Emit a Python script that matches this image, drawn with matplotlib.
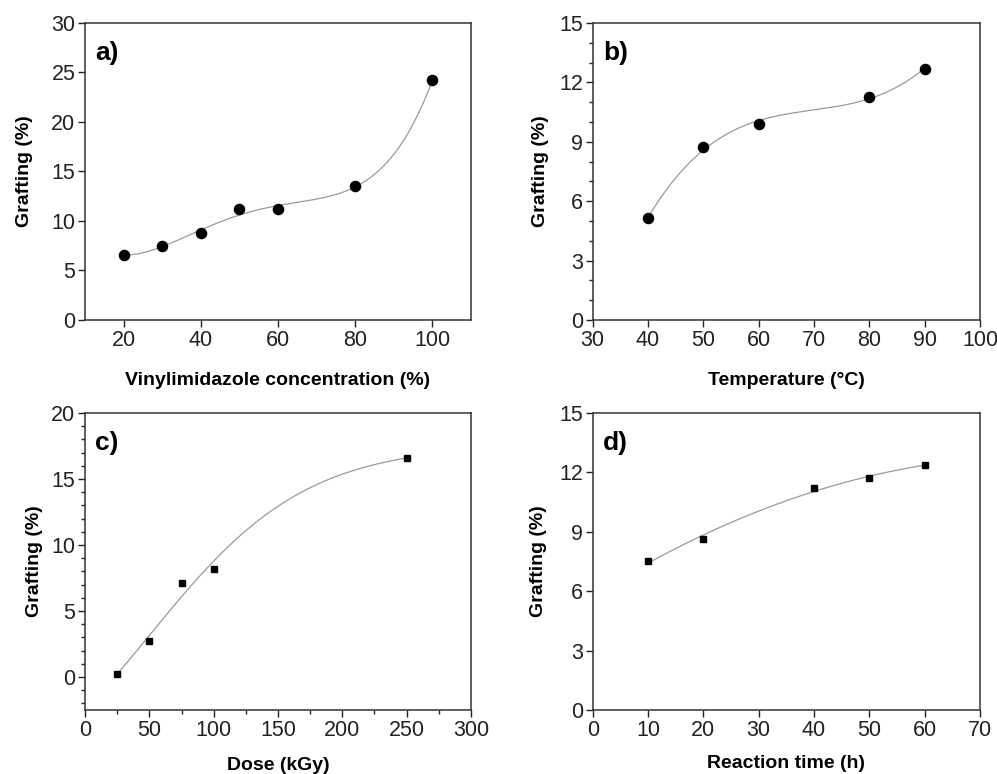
import numpy as np
import matplotlib
matplotlib.use("Agg")
import matplotlib.pyplot as plt
from matplotlib.ticker import MultipleLocator

plt.rcParams['font.family'] = ['Liberation Sans', 'DejaVu Sans']

# a) vinylimidazole concentration
conc = [20, 30, 40, 50, 60, 80, 100]
graft_conc = [6.56, 7.47, 8.75, 11.2, 11.17, 13.52, 24.2]
# b) temperature
temp = [40, 50, 60, 80, 90]
graft_temp = [5.13, 8.73, 9.92, 11.25, 12.7]
# c) dose
dose = [25, 50, 75, 100, 250]
graft_dose = [0.2, 2.7, 7.15, 8.16, 16.62]
# d) reaction time
rtime = [10, 20, 40, 50, 60]
graft_time = [7.52, 8.64, 11.23, 11.72, 12.36]


def boltzmann_fit(x, y):
    # grid search on x0, dx; linear solve for A1, A2
    x = np.asarray(x, float)
    y = np.asarray(y, float)
    best = None
    for x0 in np.linspace(50, 200, 301):
        for dx in np.linspace(10, 80, 141):
            s = 1.0 / (1 + np.exp((x - x0) / dx))
            A = np.column_stack([s, 1 - s])
            coef, *_ = np.linalg.lstsq(A, y, rcond=None)
            err = np.sum((A @ coef - y) ** 2)
            if best is None or err < best[0]:
                best = (err, x0, dx, coef)
    _, x0, dx, (a1, a2) = best
    return lambda t: a2 + (a1 - a2) / (1 + np.exp((t - x0) / dx))


fig = plt.figure(figsize=(9.97, 7.74), dpi=100)
ax_a = fig.add_axes([0.0853, 0.5866, 0.3871, 0.3837])
ax_b = fig.add_axes([0.5945, 0.5866, 0.3885, 0.3837])
ax_c = fig.add_axes([0.0853, 0.0827, 0.3871, 0.3837])
ax_d = fig.add_axes([0.5945, 0.0827, 0.3885, 0.3837])

line_kw = dict(color='#9a9a9a', lw=0.9, zorder=1)

# a
xs = np.linspace(20, 100, 300)
ax_a.plot(xs, np.polyval(np.polyfit(conc, graft_conc, 4), xs), **line_kw)
ax_a.plot(conc, graft_conc, 'o', color='black', ms=7.3, zorder=2)
ax_a.set_xlim(10, 110)
ax_a.set_ylim(0, 30)
ax_a.xaxis.set_major_locator(MultipleLocator(20))
ax_a.yaxis.set_major_locator(MultipleLocator(5))
ax_a.set_xlabel('Vinylimidazole concentration (%)')

# b
xs = np.linspace(40, 90, 300)
ax_b.plot(xs, np.polyval(np.polyfit(temp, graft_temp, 3), xs), **line_kw)
ax_b.plot(temp, graft_temp, 'o', color='black', ms=7.3, zorder=2)
ax_b.set_xlim(30, 100)
ax_b.set_ylim(0, 15)
ax_b.xaxis.set_major_locator(MultipleLocator(10))
ax_b.yaxis.set_major_locator(MultipleLocator(3))
ax_b.yaxis.set_minor_locator(MultipleLocator(1))
ax_b.set_xlabel('Temperature (°C)')

# c
xs = np.linspace(25, 250, 300)
ax_c.plot(xs, boltzmann_fit(dose, graft_dose)(xs), **line_kw)
ax_c.plot(dose, graft_dose, 's', color='black', ms=4.3, zorder=2)
ax_c.set_xlim(0, 300)
ax_c.set_ylim(-2.5, 20)
ax_c.xaxis.set_major_locator(MultipleLocator(50))
ax_c.xaxis.set_minor_locator(MultipleLocator(25))
ax_c.yaxis.set_major_locator(MultipleLocator(5))
ax_c.yaxis.set_minor_locator(MultipleLocator(1))
ax_c.set_xlabel('Dose (kGy)')

# d
xs = np.linspace(10, 60, 300)
ax_d.plot(xs, np.polyval(np.polyfit(rtime, graft_time, 2), xs), **line_kw)
ax_d.plot(rtime, graft_time, 's', color='black', ms=4.3, zorder=2)
ax_d.set_xlim(0, 70)
ax_d.set_ylim(0, 15)
ax_d.xaxis.set_major_locator(MultipleLocator(10))
ax_d.yaxis.set_major_locator(MultipleLocator(3))
ax_d.set_xlabel('Reaction time (h)')

panels = [(ax_a, 'a)', -0.135, -0.175),
          (ax_b, 'b)', -0.112, -0.175),
          (ax_c, 'c)', -0.109, -0.158),
          (ax_d, 'd)', -0.118, -0.152)]
for ax, letter, ylx, xly in panels:
    ax.text(0.026, 0.90, letter, transform=ax.transAxes, fontsize=19,
            fontweight='bold', ha='left', va='center')
    ax.set_ylabel('Grafting (%)', fontsize=14, fontweight='bold')
    ax.yaxis.set_label_coords(ylx, 0.5)
    ax.xaxis.label.set_fontsize(14)
    ax.xaxis.label.set_fontweight('bold')
    ax.xaxis.set_label_coords(0.5, xly)
    ax.tick_params(which='major', direction='out', length=5, width=1,
                   labelsize=15.5, pad=2, colors='#222222', labelcolor='#222222')
    ax.tick_params(which='minor', direction='out', length=3, width=1,
                   colors='#222222')
    for sp in ax.spines.values():
        sp.set_color('#333333')
        sp.set_linewidth(1.1)

fig.savefig('out.png', dpi=100)
